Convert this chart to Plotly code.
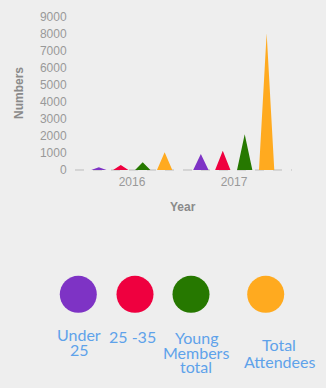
import plotly.graph_objects as go

years = ["2016", "2017"]
series = ["Under 25", "25 -35", "Young Members total", "Total Attendees"]
legend_lines = [["Under", "25"], ["25 -35"], ["Young", "Members", "total"], ["Total", "Attendees"]]
values = {
    "Under 25": [160, 940],
    "25 -35": [290, 1130],
    "Young Members total": [450, 2100],
    "Total Attendees": [1040, 8050],
}
colors = ["#7E33C5", "#EF003F", "#267800", "#FFAA1F"]

W, H = 326, 388
px = lambda v: v / W
py = lambda v: 1 - v / H

offsets = [-0.325, -0.11, 0.105, 0.32]
hw = 0.075

fig = go.Figure()
for j, s in enumerate(series):
    xs, ys = [], []
    for i, v in enumerate(values[s]):
        c = i + offsets[j]
        xs += [c - hw, c, c + hw, c - hw, None]
        ys += [0, v, 0, 0, None]
    fig.add_trace(go.Scatter(x=xs, y=ys, fill="toself", fillcolor=colors[j],
                             mode="none", hoverinfo="skip", showlegend=False,
                             xaxis="x", yaxis="y"))

# legend circles
leg_x = [78.3, 135, 191, 265.7]
fig.add_trace(go.Scatter(x=leg_x, y=[H - 294.3] * 4, mode="markers",
                         marker=dict(size=37, color=colors, line=dict(width=0)),
                         xaxis="x2", yaxis="y2", showlegend=False, hoverinfo="skip"))

line_pos = [
    (79, [334, 349]),
    (132.3, [336]),
    (196, [337, 352, 366]),
    (279, [344, 361]),
]
annotations = []
for lines, (cx, ys) in zip(legend_lines, line_pos):
    for t, yy in zip(lines, ys):
        annotations.append(dict(x=cx, y=H - yy, xref="x2", yref="y2", text=t,
                                showarrow=False, xanchor="center", yanchor="middle",
                                font=dict(family="Lato", size=16, color="#5EA2EA")))

annotations.append(dict(x=px(18.5), y=py(93.5), xref="paper", yref="paper", text="<b>Numbers</b>",
                        textangle=-90, showarrow=False, xanchor="center", yanchor="middle",
                        font=dict(family="Liberation Sans", size=12, color="#8a8a8a")))
annotations.append(dict(x=px(183), y=py(207), xref="paper", yref="paper", text="<b>Year</b>",
                        showarrow=False, xanchor="center", yanchor="middle",
                        font=dict(family="Liberation Sans", size=12, color="#8a8a8a")))

fig.update_layout(
    width=W, height=H,
    margin=dict(l=0, r=0, t=0, b=0),
    paper_bgcolor="#eeeeee", plot_bgcolor="rgba(0,0,0,0)",
    template="none",
    xaxis=dict(domain=[px(81), px(285)], range=[-0.5, 1.5], tickvals=[0, 1], ticktext=years,
               showgrid=False, zeroline=False, showline=False, ticks="outside", ticklen=1,
               tickcolor="rgba(0,0,0,0)", automargin=False,
               tickfont=dict(family="Liberation Sans", size=12, color="#999999"), fixedrange=True),
    yaxis=dict(domain=[py(170), py(17)], range=[0, 9000], dtick=1000,
               showgrid=False, zeroline=False, showline=False, ticks="outside", ticklen=11,
               tickcolor="rgba(0,0,0,0)", automargin=False,
               tickfont=dict(family="Liberation Sans", size=12, color="#999999"), fixedrange=True),
    xaxis2=dict(domain=[0, 1], range=[0, W], visible=False, anchor="y2", fixedrange=True),
    yaxis2=dict(domain=[0, 1], range=[0, H], visible=False, anchor="x2", fixedrange=True),
    shapes=[dict(type="line", xref="paper", yref="paper", x0=px(75), x1=px(292),
                 y0=py(170), y1=py(170), line=dict(color="#bbbbbb", width=1, dash="dash"),
                 layer="below")],
    annotations=annotations,
    showlegend=False,
)

fig.write_html("out.html", config={"displayModeBar": False})
